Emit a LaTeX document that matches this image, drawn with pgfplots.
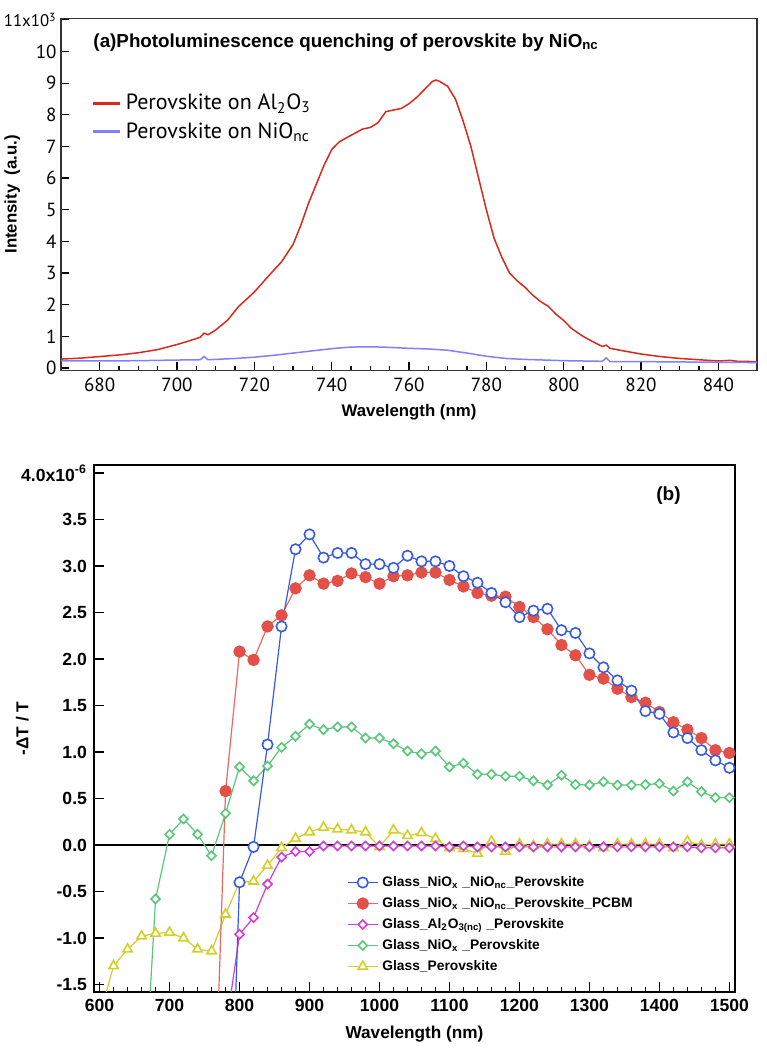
\documentclass[border=0pt]{standalone}
\usepackage{fontspec}
\setmainfont{Liberation Sans}
\newfontfamily\ptsans{PT Sans}
\usepackage{pgfplots}
\pgfplotsset{compat=1.18}
\definecolor{plred}{RGB}{217,40,28}
\definecolor{plblue}{RGB}{128,128,255}
\definecolor{cblue}{RGB}{55,90,230}
\definecolor{cred}{RGB}{226,80,72}
\definecolor{cmag}{RGB}{212,60,212}
\definecolor{cgreen}{RGB}{88,200,120}
\definecolor{cyel}{RGB}{212,206,40}
\begin{document}
\begin{tikzpicture}
\useasboundingbox (0,0) rectangle (383pt,524pt);
% ---------------- panel (a)
\begin{axis}[
  at={(30.5pt,338.75pt)}, anchor=south west,
  scale only axis, width=348pt, height=176.1pt,
  xmin=670, xmax=850, ymin=-0.08, ymax=11.05,
  xtick={680,700,...,840}, minor x tick num=3,
  ytick={0,1,2,3,4,5,6,7,8,9,10,11},
  yticklabels={0,1,2,3,4,5,6,7,8,9,10,{\fontsize{8.4}{9}\selectfont 11x10\textsuperscript{3}}},
  tick pos=left,
  major tick length=4pt, minor tick length=2.2pt,
  tick style={black, line width=0.6pt},
  axis line style={draw=black!80, line width=0.6pt},
  /pgf/number format/assume math mode=true,
  tick label style={font=\ptsans\fontsize{9.5}{10}\selectfont},
  yticklabel style={inner sep=2pt},
  xlabel={Wavelength (nm)}, ylabel={Intensity\ \ (a.u.)},
  label style={font=\bfseries\fontsize{8.4}{10}\selectfont},
  xlabel style={at={(axis description cs:0.5,-0.118)}, anchor=center},
  ylabel style={at={(axis description cs:-0.070,0.5)}, anchor=center},
  legend style={draw=none, fill=none, at={(axis description cs:0.035,0.809)}, anchor=north west,
    font=\ptsans\fontsize{11}{13}\selectfont, row sep=1pt},
  legend cell align=left,
  legend image code/.code={\draw[#1, line width=1.5pt] (0pt,0pt) -- (13.5pt,0pt);},
]
\addplot[plred, line width=0.75pt] coordinates {
(670,0.28) (675,0.31) (680,0.36) (685,0.41) (690,0.48) (695,0.58) (700,0.74) (703,0.85)
(706,0.97) (707,1.1) (708,1.05) (710,1.2) (713,1.5) (716,1.95) (720,2.4) (724,2.95)
(727,3.35) (730,3.9) (732,4.5) (734,5.2) (736,5.8) (738,6.4) (740,6.9) (742,7.15)
(745,7.35) (748,7.55) (750,7.6) (752,7.75) (754,8.1) (756,8.15) (758,8.2) (760,8.35)
(762,8.55) (764,8.8) (766,9.05) (767,9.1) (768,9.05) (770,8.9) (772,8.5) (774,7.8)
(776,7.0) (778,6.0) (780,5.0) (782,4.1) (784,3.5) (786,3.0) (788,2.75) (790,2.55)
(792,2.3) (794,2.1) (796,1.95) (798,1.7) (800,1.5) (802,1.25) (805,1.0) (808,0.8)
(810,0.68) (811,0.72) (812,0.62) (815,0.55) (820,0.44) (825,0.36) (830,0.3) (835,0.26)
(840,0.22) (843,0.24) (845,0.21) (850,0.2)};
\addlegendentry{Perovskite on Al\textsubscript{2}O\textsubscript{3}}
\addplot[plblue, line width=0.75pt] coordinates {
(670,0.22) (680,0.22) (690,0.23) (700,0.25) (706,0.26) (707,0.36) (708,0.26) (710,0.27)
(715,0.3) (720,0.34) (725,0.4) (730,0.47) (735,0.54) (740,0.61) (745,0.66) (750,0.67)
(755,0.65) (760,0.62) (765,0.6) (770,0.56) (775,0.47) (780,0.37) (785,0.3) (790,0.27)
(800,0.23) (810,0.21) (811,0.32) (812,0.2) (820,0.2) (830,0.19) (840,0.18) (850,0.17)};
\addlegendentry{Perovskite on NiO\textsubscript{nc}}
\node[anchor=west, font=\bfseries\fontsize{9.4}{11}\selectfont, inner sep=0pt] at (axis cs:678.3,10.28)
  {(a)Photoluminescence quenching of perovskite by NiO\textsubscript{nc}};
\end{axis}
% ---------------- panel (b)
\begin{axis}[
  at={(47pt,28pt)}, anchor=south west,
  scale only axis, width=320.5pt, height=263.5pt,
  xmin=592, xmax=1508, ymin=-1.58, ymax=4.086,
  xtick={600,700,...,1500}, minor x tick num=4,
  ytick={-1.5,-1,-0.5,0,0.5,1,1.5,2,2.5,3,3.5,4},
  yticklabels={-1.5,-1.0,-0.5,0.0,0.5,1.0,1.5,2.0,2.5,3.0,3.5,4.0x10\textsuperscript{-6}},
  tick pos=left,
  major tick length=5pt, minor tick length=2.5pt,
  axis line style={black, line width=1pt},
  tick style={black, line width=0.8pt},
  /pgf/number format/assume math mode=true,
  /pgf/number format/1000 sep={},
  tick label style={font=\bfseries\fontsize{8.8}{10}\selectfont},
  xlabel={Wavelength (nm)}, ylabel={-ΔT / T},
  label style={font=\bfseries\fontsize{8.6}{10}\selectfont},
  xlabel style={at={(axis description cs:0.5,-0.08)}, anchor=center},
  ylabel style={at={(axis description cs:-0.112,0.5)}, anchor=center},
  legend style={draw=none, fill=none, at={(axis description cs:0.385,0.236)}, anchor=north west,
    font=\bfseries\fontsize{6.9}{8}\selectfont, row sep=0pt},
  reverse legend, legend cell align=left,
  legend image code/.code={\draw[mark repeat=2,mark phase=2,#1] plot coordinates {(0pt,0pt) (7.5pt,0pt) (15pt,0pt)};},
]
\addplot[black, line width=1pt, forget plot] coordinates {(592,0) (1508,0)};
\addplot[cyel, line width=0.6pt, mark=triangle*, mark size=2.7pt, mark options={fill=white, draw=cyel, line width=0.8pt}] coordinates {
(600,-1.84) (620,-1.30) (640,-1.12) (660,-0.98) (680,-0.95) (700,-0.94) (720,-1.0) (740,-1.12)
(760,-1.14) (780,-0.745) (800,-0.40) (820,-0.39) (840,-0.22) (860,-0.03) (880,0.07) (900,0.14)
(920,0.19) (940,0.17) (960,0.16) (980,0.14) (1000,-0.02) (1020,0.16) (1040,0.10) (1060,0.13)
(1080,0.07) (1100,-0.03) (1120,-0.04) (1140,-0.09) (1160,0.04) (1180,-0.07) (1200,0.01) (1220,-0.01)
(1240,0.01) (1260,0.01) (1280,0.01) (1300,-0.01) (1320,-0.03) (1340,0.01) (1360,0.01) (1380,0.01)
(1400,0.01) (1420,-0.03) (1440,0.04) (1460,0.0) (1480,0.01) (1500,0.01)};
\addlegendentry{Glass\_Perovskite}
\addplot[cgreen, line width=0.6pt, mark=square*, mark size=1.6pt, mark options={rotate=45, fill=white, draw=cgreen, line width=0.8pt}] coordinates {
(660,-3.2) (680,-0.58) (700,0.115) (720,0.28) (740,0.115) (760,-0.115) (780,0.34) (800,0.84)
(820,0.69) (840,0.85) (860,1.05) (880,1.17) (900,1.30) (920,1.24) (940,1.27) (960,1.27)
(980,1.15) (1000,1.15) (1020,1.09) (1040,1.01) (1060,0.98) (1080,1.01) (1100,0.84) (1120,0.88)
(1140,0.76) (1160,0.76) (1180,0.74) (1200,0.74) (1220,0.69) (1240,0.645) (1260,0.75) (1280,0.65)
(1300,0.645) (1320,0.68) (1340,0.645) (1360,0.645) (1380,0.65) (1400,0.66) (1420,0.58) (1440,0.68)
(1460,0.575) (1480,0.51) (1500,0.51)};
\addlegendentry{Glass\_NiO\textsubscript{x} \_Perovskite}
\addplot[cmag, line width=0.6pt, mark=square*, mark size=1.6pt, mark options={rotate=45, fill=white, draw=cmag, line width=0.8pt}] coordinates {
(780,-2.0) (800,-0.96) (820,-0.78) (840,-0.42) (860,-0.13) (880,-0.07) (900,-0.07) (920,-0.01)
(940,-0.01) (960,-0.01) (980,-0.01) (1000,-0.01) (1020,-0.01) (1040,-0.01) (1060,-0.01) (1080,-0.01)
(1100,-0.02) (1120,-0.01) (1140,-0.02) (1160,-0.02) (1180,-0.02) (1200,-0.02) (1220,-0.02) (1240,-0.02)
(1260,-0.02) (1280,-0.02) (1300,-0.02) (1320,-0.02) (1340,-0.02) (1360,-0.02) (1380,-0.02) (1400,-0.02)
(1420,-0.02) (1440,-0.02) (1460,-0.03) (1480,-0.03) (1500,-0.03)};
\addlegendentry{Glass\_Al\textsubscript{2}O\textsubscript{3(nc)} \_Perovskite}
\addplot[cred!85, line width=0.6pt, mark=*, mark size=2.8pt, mark options={fill=cred, draw=cred}] coordinates {
(760,-3.9) (780,0.58) (800,2.08) (820,1.99) (840,2.35) (860,2.47) (880,2.76) (900,2.90)
(920,2.81) (940,2.84) (960,2.92) (980,2.88) (1000,2.81) (1020,2.89) (1040,2.90) (1060,2.93)
(1080,2.93) (1100,2.85) (1120,2.78) (1140,2.71) (1160,2.68) (1180,2.67) (1200,2.56) (1220,2.45)
(1240,2.32) (1260,2.15) (1280,2.04) (1300,1.83) (1320,1.79) (1340,1.68) (1360,1.59) (1380,1.53)
(1400,1.43) (1420,1.32) (1440,1.24) (1460,1.15) (1480,1.02) (1500,0.99)};
\addlegendentry{Glass\_NiO\textsubscript{x} \_NiO\textsubscript{nc}\_Perovskite\_PCBM}
\addplot[cblue, line width=0.6pt, mark=*, mark size=2.6pt, mark options={fill=white, draw=cblue, line width=0.8pt}] coordinates {
(780,-4.8) (800,-0.40) (820,-0.02) (840,1.08) (860,2.35) (880,3.18) (900,3.34) (920,3.09)
(940,3.14) (960,3.14) (980,3.02) (1000,3.02) (1020,2.98) (1040,3.11) (1060,3.05) (1080,3.05)
(1100,3.00) (1120,2.89) (1140,2.82) (1160,2.71) (1180,2.61) (1200,2.45) (1220,2.52) (1240,2.54)
(1260,2.31) (1280,2.28) (1300,2.06) (1320,1.91) (1340,1.77) (1360,1.66) (1380,1.44) (1400,1.41)
(1420,1.21) (1440,1.15) (1460,1.02) (1480,0.91) (1500,0.83)};
\addlegendentry{Glass\_NiO\textsubscript{x} \_NiO\textsubscript{nc}\_Perovskite}
\node[font=\bfseries\fontsize{9.5}{11}\selectfont] at (axis cs:1413,3.76) {(b)};
\end{axis}
\end{tikzpicture}
\end{document}
